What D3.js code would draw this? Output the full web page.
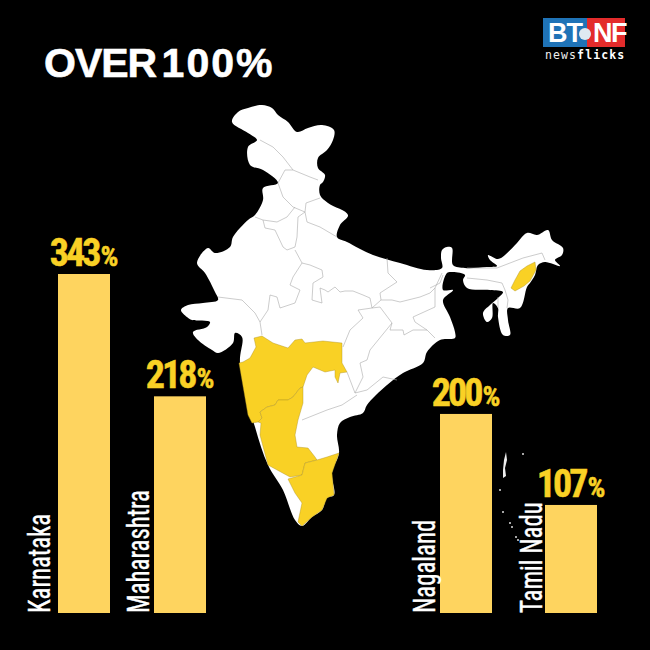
<!DOCTYPE html>
<html><head><meta charset="utf-8">
<script src="https://d3js.org/d3.v7.min.js"></script>
<style>html,body{margin:0;padding:0;background:#000}svg{display:block}</style>
</head><body><svg id="c" width="650" height="650"></svg>
<script>
const categories=["Karnataka","Maharashtra","Nagaland","Tamil Nadu"];
const values=[343,218,200,107];
const titleWord="OVER ";
const titleNumber="100%";
const indiaOutline=[[232,122],[238,112],[248,108],[262,105],[272,108],[278,115],[288,122],[297,132],[308,128],[322,125],[334,130],[333,140],[327,150],[318,158],[318,168],[325,175],[323,182],[320,185],[320,195],[328,203],[348,215],[340,225],[337,237],[347,242],[373,255],[400,263],[427,270],[442,268],[441,258],[442,250],[447,247],[452,248],[453,265],[465,268],[487,267],[497,266],[490,260],[488,255],[498,259],[505,255],[517,243],[527,233],[537,235],[548,230],[552,240],[563,248],[562,255],[555,260],[560,266],[545,262],[538,265],[535,275],[530,283],[527,287],[520,308],[508,308],[508,320],[510,335],[503,335],[498,317],[498,308],[493,303],[492,318],[487,322],[483,313],[490,305],[498,298],[503,292],[490,290],[467,288],[463,280],[465,275],[453,272],[447,273],[443,290],[453,290],[443,300],[450,317],[455,332],[455,338],[440,340],[427,352],[423,363],[403,373],[387,385],[367,405],[363,413],[350,417],[340,423],[337,435],[339,453],[332,473],[334,495],[327,498],[322,510],[312,517],[302,526],[295,520],[283,490],[268,465],[255,427],[240,363],[242,337],[235,333],[233,343],[218,353],[212,350],[198,340],[193,332],[207,327],[210,322],[192,320],[187,317],[181,310],[188,305],[203,303],[218,300],[215,292],[205,273],[197,263],[208,248],[215,253],[230,247],[233,237],[248,220],[255,215],[263,200],[263,188],[278,183],[263,170],[250,165],[248,147],[257,140],[248,133]];
const maharashtraShape=[[239,363],[243,362],[250,358],[256,347],[254,338],[262,336],[273,343],[288,348],[295,340],[302,339],[305,343],[323,341],[342,343],[342,363],[347,372],[340,373],[338,383],[335,377],[335,370],[325,372],[313,367],[307,375],[303,387],[300,388],[293,397],[288,400],[278,400],[275,405],[267,407],[260,412],[262,418],[258,422],[252,423],[248,415]];
const karnatakaShape=[[303,387],[303,403],[298,420],[295,435],[297,447],[308,448],[315,457],[317,460],[305,463],[302,475],[290,477],[268,465],[260,435],[261,423],[258,422],[262,418],[260,412],[267,407],[275,405],[278,400],[288,400],[293,397],[300,388]];
const tamilNaduShape=[[317,460],[327,457],[339,453],[332,473],[334,495],[327,498],[322,510],[312,517],[302,526],[298,522],[302,503],[295,493],[292,487],[288,479],[302,475],[305,463]];
const nagalandShape=[[535,262],[536,270],[530,281],[524,286],[515,291],[511,288],[515,280],[520,271],[527,266]];
const stateBorders=[
[[260,140],[273,147],[283,157],[293,170],[310,177],[318,180]],
[[293,170],[285,170],[278,183],[283,197],[293,207],[305,212],[306,203],[320,198]],
[[305,212],[307,222],[320,227],[337,237]],
[[255,217],[263,220],[277,222],[287,217],[295,207]],
[[263,220],[265,228],[275,230],[283,247],[287,250],[295,247],[297,237],[298,217],[305,212]],
[[295,250],[302,263],[310,265],[322,270],[323,277],[313,283],[312,300],[322,303],[320,288],[325,290],[328,292],[335,287],[340,292],[345,291],[353,291],[363,295],[370,298],[372,308],[358,310],[363,318],[350,330],[343,347]],
[[302,263],[293,277],[290,285],[300,290],[295,303],[280,308],[277,297],[270,295],[268,310],[260,322],[255,313],[242,300],[218,297]],
[[260,322],[262,335]],
[[387,258],[388,273],[397,282],[380,293],[381,300],[372,308],[380,307],[392,323],[370,350],[367,360],[360,363],[363,377],[355,393]],
[[381,300],[392,300],[400,302],[408,300],[420,297],[430,293],[435,288],[442,273]],
[[435,288],[435,307],[413,317],[415,322],[427,330],[435,338]],
[[392,323],[390,330],[403,330],[404,335],[413,330],[427,330]],
[[347,372],[355,393],[367,390],[383,377],[397,380]],
[[357,395],[342,405],[327,410],[302,420]],
[[467,268],[497,268],[523,258],[542,253],[545,260]],
[[467,278],[487,280],[502,283],[505,290],[508,300],[507,308]],
[[498,297],[498,308]],
[[443,275],[440,283],[430,288]]];
const andamanMain=[[506,452],[507,460],[505,468],[506,476],[503,478],[503,470],[504,460]];
const islandDots=[[500,490],[503,512],[510,523],[512,527],[516,537],[518,540],[523,454]];

const svg=d3.select("#c");
svg.append("rect").attr("width",650).attr("height",650).attr("fill","#000");
const smooth=d3.line().curve(d3.curveCatmullRomClosed.alpha(.5));
const straightPoly=d3.line().curve(d3.curveLinearClosed);
const open=d3.line();
const map=svg.append("g");
map.append("path").attr("d",smooth(indiaOutline)).attr("fill","#fff");
map.append("g").selectAll("path").data(stateBorders).join("path").attr("d",open).attr("fill","none").attr("stroke","#aaa").attr("stroke-width",.6);
map.append("g").selectAll("path").data([maharashtraShape,karnatakaShape,tamilNaduShape,nagalandShape]).join("path").attr("d",straightPoly).attr("fill","#f9d125").attr("stroke","#a88d20").attr("stroke-width",.4).attr("stroke-linejoin","round");
map.append("path").attr("d",straightPoly(andamanMain)).attr("fill","#eee");
map.append("g").selectAll("circle").data(islandDots).join("circle").attr("cx",d=>d[0]).attr("cy",d=>d[1]).attr("r",1).attr("fill","#ddd");

const x=d3.scaleOrdinal().domain(categories).range([58,154,440,545]);
const labelX=d3.scaleOrdinal().domain(categories).range([50,149,435,542]);
const y=d3.scaleLinear().domain([-3.4,343]).range([613,274]);
const bw=52;
const narrow="'Roboto Condensed','Liberation Sans',sans-serif";
svg.append("g").selectAll("rect").data(categories).join("rect")
 .attr("x",d=>x(d)).attr("width",bw).attr("y",(d,i)=>y(values[i])).attr("height",(d,i)=>y.range()[0]-y(values[i])).attr("fill","#fed45f");
const vl=svg.append("g").selectAll("text").data(categories).join("text")
 .attr("x",d=>x(d)+bw/2).attr("y",(d,i)=>y(values[i])-8).attr("text-anchor","middle")
 .attr("font-family",narrow).attr("font-weight",700).attr("font-size",38).attr("fill","#f9d125").attr("stroke","#f9d125").attr("stroke-width",.5);
vl.append("tspan").attr("letter-spacing",-3).text((d,i)=>values[i]);
vl.append("tspan").attr("font-size",28).attr("dx",2).text("%");
svg.append("g").selectAll("text").data(categories).join("text")
 .attr("transform",d=>`translate(${labelX(d)},613) rotate(-90) scale(.8,1)`)
 .attr("font-family",narrow).attr("font-size",31).attr("fill","#fff").attr("stroke","#fff").attr("stroke-width",.4).text(d=>d);

const ttl=svg.append("text").attr("x",44).attr("y",77).attr("font-family","'Liberation Sans',sans-serif").attr("font-weight",700).attr("font-size",41).attr("word-spacing",-5).attr("fill","#fff").attr("stroke","#fff").attr("stroke-width",.6);
ttl.append("tspan").attr("letter-spacing",-1).text(titleWord);
ttl.append("tspan").attr("letter-spacing",2).text(titleNumber);

const logo=svg.append("g");
logo.append("rect").attr("x",543).attr("y",18).attr("width",44).attr("height",29).attr("fill","#1f73b7");
logo.append("rect").attr("x",587).attr("y",18).attr("width",38).attr("height",29).attr("fill","#e32b2b");
logo.append("text").attr("x",548).attr("y",42).attr("font-family","'Liberation Sans',sans-serif").attr("font-weight",700).attr("font-size",27).attr("letter-spacing",-1).attr("fill","#fff").text("BT");
logo.append("circle").attr("cx",585).attr("cy",34).attr("r",6).attr("fill","#dfe9f2");
logo.append("text").attr("x",593).attr("y",42).attr("font-family","'Liberation Sans',sans-serif").attr("font-weight",700).attr("font-size",27).attr("letter-spacing",-1.5).attr("fill","#fff").text("NF");
const nf=logo.append("text").attr("x",545).attr("y",59).attr("font-family","'DejaVu Sans Mono',monospace").attr("font-size",11.5).attr("letter-spacing",1.1).attr("fill","#eee");
nf.append("tspan").text("news");
nf.append("tspan").attr("font-weight",700).attr("fill","#fff").text("flicks");
</script></body></html>
